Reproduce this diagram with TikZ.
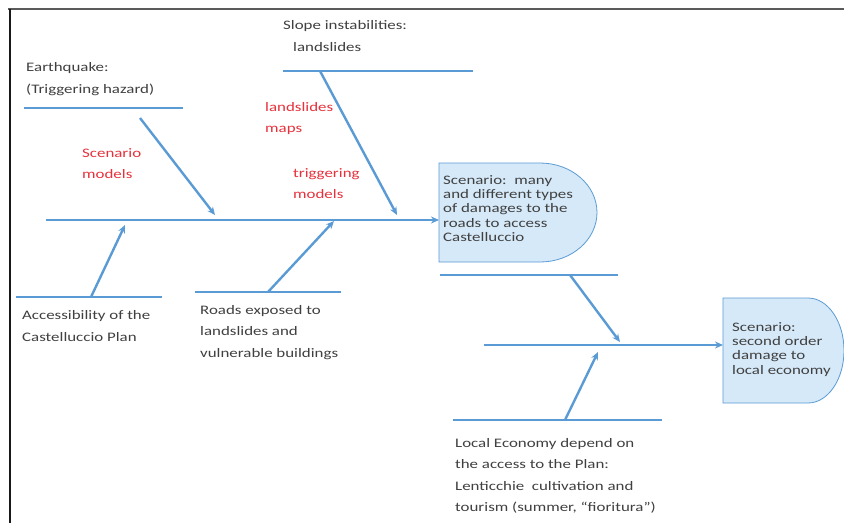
\documentclass[tikz,border=0pt]{standalone}
\usepackage{fontspec}
\setmainfont{Carlito}[FakeStretch=1.3]
\usetikzlibrary{arrows.meta}
\definecolor{bonec}{RGB}{91,155,213}
\definecolor{boxfill}{RGB}{214,233,248}
\definecolor{txt}{RGB}{64,64,64}
\definecolor{cue}{RGB}{230,50,60}
\definecolor{frametop}{RGB}{90,90,90}
\definecolor{frameleft}{RGB}{25,25,25}
\begin{document}
\begin{tikzpicture}[x=1pt,y=-1pt,
  bone/.style={draw=bonec, line width=1.3pt},
  rib/.style={draw=bonec, line width=2.4pt, -{Stealth[length=8pt,width=7pt]}},
  % multi-line labels are anchored at the baseline of their last line
  lbl/.style={anchor=base west, inner sep=0pt, align=left, text=txt,
    font=\fontsize{13}{21.5}\selectfont},
  cuelbl/.style={lbl, text=cue},
  boxtxt/.style={lbl, font=\fontsize{13}{14.4}\selectfont},
  scen/.style={draw=bonec, line width=0.8pt, fill=boxfill}]
\useasboundingbox (0,0) rectangle (844,523);
\fill[white] (0,0) rectangle (844,523);

% page frame
\draw[frametop, line width=2pt] (8,8.5) -- (844,8.5);
\draw[frameleft, line width=1.5pt] (10,8.5) -- (10,523);

% bone end points
\coordinate (eqL) at (24,108);   \coordinate (eqR) at (183,108);
\coordinate (eqS) at (140,118);  \coordinate (eqT) at (215,215);
\coordinate (slL) at (283,71);   \coordinate (slR) at (473,71);
\coordinate (slS) at (320,71);   \coordinate (slT) at (397,215);
\coordinate (acL) at (16,297);   \coordinate (acR) at (162,297);
\coordinate (acS) at (91,297);   \coordinate (acT) at (125,225);
\coordinate (rdL) at (195,292);  \coordinate (rdR) at (341,292);
\coordinate (rdS) at (268,292);  \coordinate (rdT) at (334,221);
\coordinate (spL) at (46,220);   \coordinate (b1w) at (439,220);
\coordinate (dmL) at (440,275);  \coordinate (dmR) at (618,275);
\coordinate (dmS) at (570,275);  \coordinate (dmT) at (620,342);
\coordinate (leL) at (453,420);  \coordinate (leR) at (662,420);
\coordinate (leS) at (565,420);  \coordinate (leT) at (598,352);
\coordinate (s2L) at (484,345);  \coordinate (b2w) at (723,345);

% scenario boxes (flat left, rounded right)
\path[scen] (439,163) -- (540,163)
  arc[start angle=90, end angle=-90, x radius=57pt, y radius=49.5pt]
  -- (439,262) -- cycle;
\path[scen] (723,298) -- (808,298)
  arc[start angle=90, end angle=-90, x radius=36pt, y radius=52.5pt]
  -- (723,403) -- cycle;

% horizontal bones
\draw[bone] (eqL) -- (eqR);
\draw[bone] (slL) -- (slR);
\draw[bone] (acL) -- (acR);
\draw[bone] (rdL) -- (rdR);
\draw[bone] (dmL) -- (dmR);
\draw[bone] (leL) -- (leR);

% spines and ribs
\draw[rib] (spL) -- (b1w);
\draw[rib] (s2L) -- (b2w);
\draw[rib] (eqS) -- (eqT);
\draw[rib] (slS) -- (slT);
\draw[rib] (acS) -- (acT);
\draw[rib] (rdS) -- (rdT);
\draw[rib] (dmS) -- (dmT);
\draw[rib] (leS) -- (leT);

% labels
\node[lbl] (eq) at (26,93) {Earthquake:\\(Triggering hazard)};
\node[lbl] (sl) at (283,51) {Slope instabilities:\\\hspace*{10pt}landslides};
\node[lbl] (ac) at (22,341) {Accessibility of the\\Castelluccio Plan};
\node[lbl] (rd) at (200,357) {Roads exposed to\\landslides and\\vulnerable buildings};
\node[lbl] (le) at (455,511.5) {Local Economy depend on\\the access to the Plan:\\Lenticchie\ \ cultivation and\\tourism (summer, “fioritura”)};

\node[cuelbl] (sm) at (82,178.5) {Scenario\\models};
\node[cuelbl] (lm) at (265,132.5) {landslides\\maps};
\node[cuelbl] (tm) at (293,198.5) {triggering\\models};

\node[boxtxt] (b1) at (443,241.6) {Scenario:\ \ many\\and different types\\of damages to the\\roads to access\\Castelluccio};
\node[boxtxt] (b2) at (732,374.2) {Scenario:\\second order\\damage to\\local economy};
\end{tikzpicture}
\end{document}
